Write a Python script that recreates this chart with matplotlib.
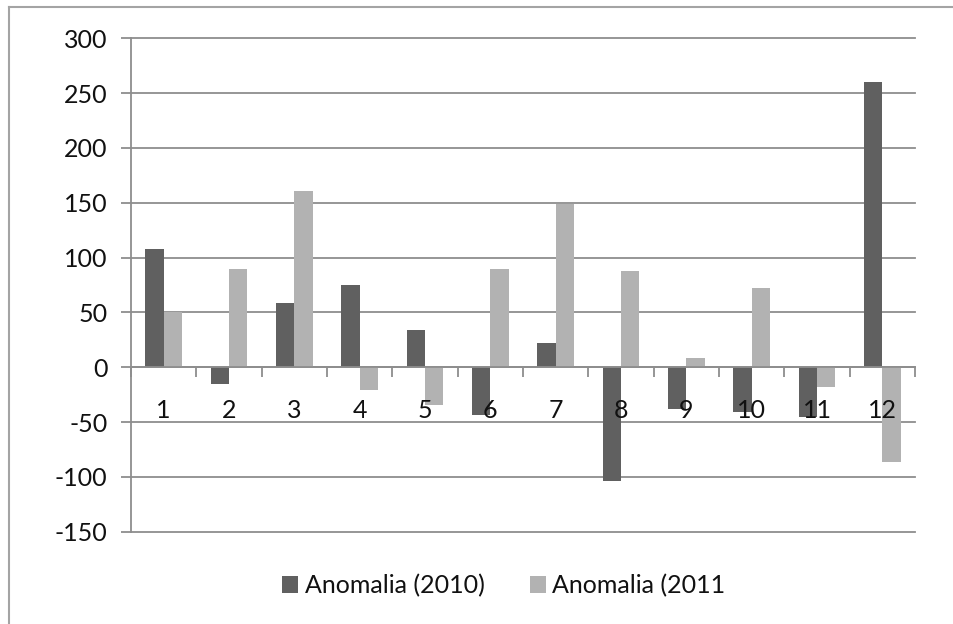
import matplotlib.pyplot as plt
from matplotlib.lines import Line2D
from matplotlib.transforms import offset_copy
import numpy as np

plt.rcParams['font.family'] = ['Lato', 'DejaVu Sans']

months = [1, 2, 3, 4, 5, 6, 7, 8, 9, 10, 11, 12]
anomalia_2010 = [108, -15, 59, 75, 34, -44, 22, -104, -38, -41, -45, 260]
anomalia_2011 = [50, 90, 161, -21, -34, 90, 149, 88, 8, 72, -18, -86]
y_ticks = [-150, -100, -50, 0, 50, 100, 150, 200, 250, 300]

dark = '#606060'
light = '#b2b2b2'
grid_col = '#8e8e8e'
fs = 18


def main():
    fig = plt.figure(figsize=(9.54, 6.24), dpi=100)
    ax = fig.add_axes([0.1373, 0.1479, 0.8218, 0.7907])

    x = np.arange(len(months)) + 1
    w = 0.28
    ax.bar(x - w / 2, anomalia_2010, w, color=dark, zorder=2, label='Anomalia (2010)')
    ax.bar(x + w / 2, anomalia_2011, w, color=light, zorder=2, label='Anomalia (2011')

    for v in y_ticks:
        ax.axhline(v, color=grid_col, lw=1.3, zorder=0.5, clip_on=False)

    ax.set_xlim(0.5, len(months) + 0.5)
    ax.set_ylim(-150, 300)

    # category edges get tick marks on the zero line
    ax.spines['bottom'].set_position(('data', 0))
    ax.spines['bottom'].set_color(grid_col)
    ax.spines['bottom'].set_linewidth(1.3)
    ax.spines['left'].set_color(grid_col)
    ax.spines['left'].set_linewidth(1.3)
    ax.spines['top'].set_visible(False)
    ax.spines['right'].set_visible(False)

    ax.set_xticks(np.arange(len(months) + 1) + 0.5)
    ax.set_xticklabels([])
    ax.tick_params(axis='x', direction='out', length=7, width=1.3, color=grid_col)

    # month numbers drawn over the bars, below the zero line
    lab_tr = offset_copy(ax.transData, fig=fig, x=0, y=-31, units='points')
    for xi, m in zip(x, months):
        ax.text(xi, 0, str(m), transform=lab_tr, ha='center', va='center',
                fontsize=fs, color='#111111', zorder=5)

    ax.set_yticks(y_ticks)
    ax.set_yticklabels([str(v) for v in y_ticks], fontsize=fs, color='#111111')
    ax.tick_params(axis='y', direction='out', length=7, width=1.3, color=grid_col, pad=10)

    leg = fig.legend(loc='center', bbox_to_anchor=(0.528, 0.062), ncol=2, frameon=False,
                     fontsize=fs, handlelength=0.65, handleheight=0.65, handletextpad=0.25,
                     columnspacing=1.8)
    for t in leg.get_texts():
        t.set_color('#111111')

    # chart frame, visible on the top and left edges
    fig.add_artist(Line2D([0.009, 1.0], [0.989, 0.989], color='#a4a4a4', lw=1.5))
    fig.add_artist(Line2D([0.009, 0.009], [0.0, 0.989], color='#a4a4a4', lw=1.5))

    fig.savefig('out.png', dpi=100)


if __name__ == '__main__':
    main()
